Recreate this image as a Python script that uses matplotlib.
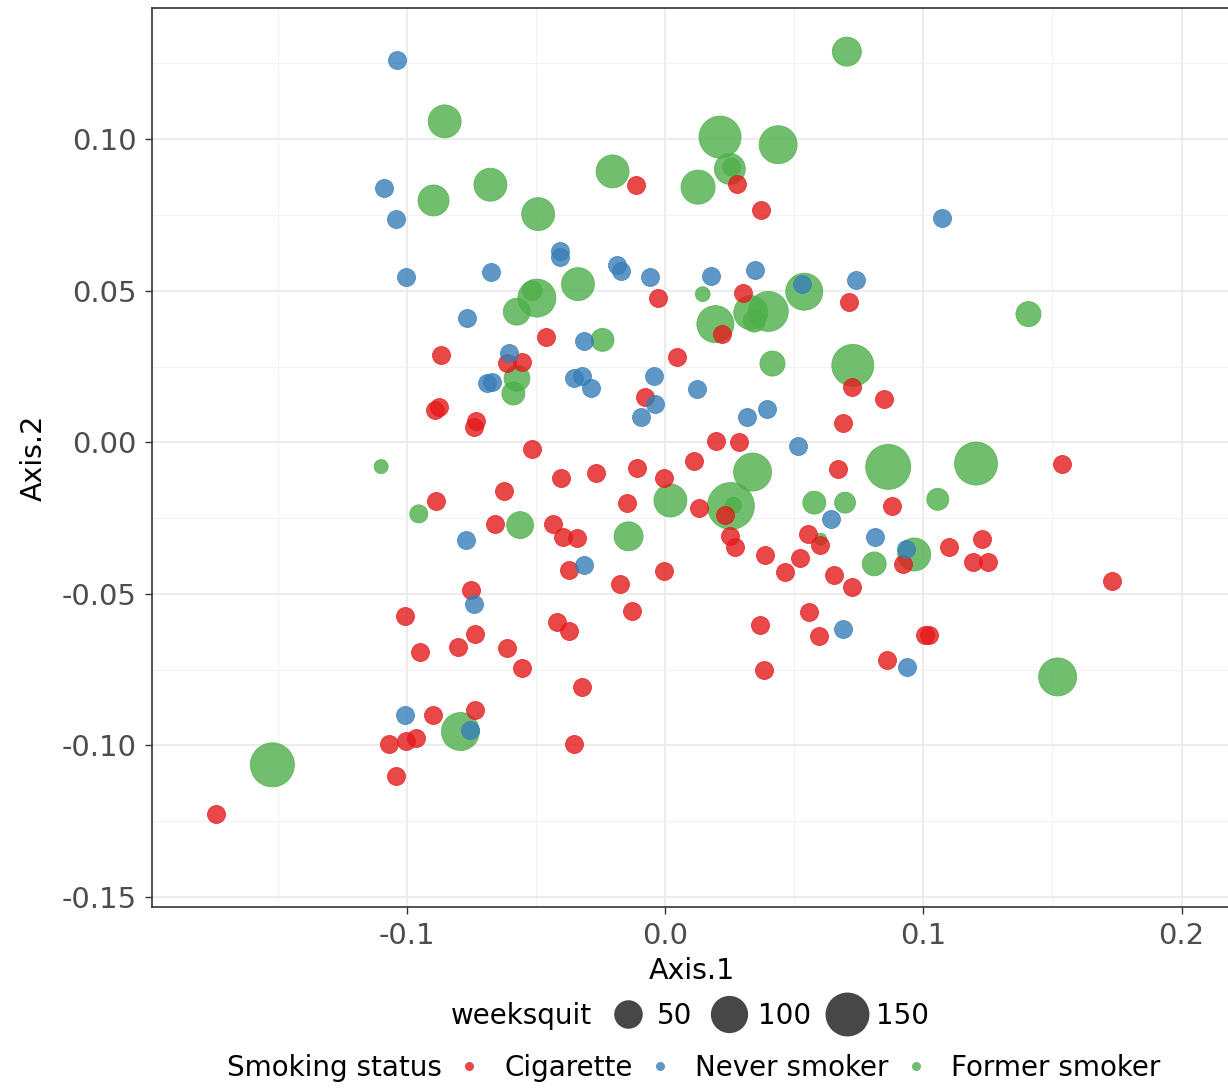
import numpy as np
import matplotlib
matplotlib.use("Agg")
import matplotlib.pyplot as plt
from matplotlib.lines import Line2D

# %% data

cig_x = [-0.0114, 0.0279, 0.0373, -0.0027, 0.0301, 0.0711, -0.0459, 0.0047, -0.0867, -0.0610,
         -0.0552, 0.0221, 0.0725, 0.0846, 0.0691, -0.0077, -0.0889, -0.0875, -0.0730, -0.0740,
         0.0197, 0.0288, -0.0513, 0.0113, -0.0403, -0.0267, -0.0110, -0.0003, -0.0623, -0.0885,
         -0.0147, -0.0659, -0.0434, -0.0396, -0.0340, -0.0370, -0.0003, -0.0174, -0.0126, -0.0752,
         -0.1005, -0.0736, -0.0949, -0.0803, -0.0610, -0.0554, -0.0420, -0.0370, -0.0323, -0.0900,
         -0.0736, -0.1069, -0.1003, -0.0965, -0.0352, -0.1040, -0.1739, 0.0670, 0.1536, 0.0877,
         0.0231, 0.0132, 0.0251, 0.0272, 0.0386, 0.0463, 0.0524, 0.0553, 0.0600, 0.0654,
         0.0722, 0.0921, 0.1099, 0.1229, 0.1191, 0.1252, 0.1732, 0.0559, 0.0366, 0.0596,
         0.1008, 0.1022, 0.0384, 0.0860]
cig_y = [0.0850, 0.0852, 0.0767, 0.0476, 0.0494, 0.0463, 0.0348, 0.0280, 0.0288, 0.0263,
         0.0266, 0.0359, 0.0181, 0.0142, 0.0063, 0.0148, 0.0108, 0.0118, 0.0070, 0.0049,
         0.0004, 0.0001, -0.0021, -0.0062, -0.0119, -0.0100, -0.0086, -0.0117, -0.0161, -0.0192,
         -0.0199, -0.0271, -0.0271, -0.0312, -0.0317, -0.0422, -0.0423, -0.0466, -0.0557, -0.0486,
         -0.0572, -0.0632, -0.0692, -0.0676, -0.0678, -0.0744, -0.0592, -0.0621, -0.0808, -0.0899,
         -0.0882, -0.0994, -0.0984, -0.0974, -0.0995, -0.1102, -0.1226, -0.0087, -0.0073, -0.0210,
         -0.0241, -0.0216, -0.0310, -0.0345, -0.0372, -0.0427, -0.0383, -0.0302, -0.0340, -0.0438,
         -0.0478, -0.0403, -0.0346, -0.0318, -0.0395, -0.0395, -0.0458, -0.0561, -0.0604, -0.0640,
         -0.0634, -0.0634, -0.0750, -0.0717]

never_x = [-0.1039, -0.1087, -0.1041, -0.0408, -0.0408, -0.0674, -0.0187, -0.0170, -0.0057, -0.1001,
           -0.0767, -0.0313, -0.0603, -0.0690, -0.0669, -0.0352, -0.0321, -0.0286, -0.0043, -0.0037,
           -0.0093, 0.1072, 0.0177, 0.0349, 0.0531, 0.0741, 0.0123, 0.0319, 0.0393, 0.0515,
           0.0641, 0.0812, 0.0934, 0.0691, 0.0938, -0.0769, -0.0314, -0.0740, -0.1005, -0.0756]
never_y = [0.1262, 0.0839, 0.0737, 0.0632, 0.0612, 0.0561, 0.0586, 0.0564, 0.0544, 0.0546,
           0.0409, 0.0335, 0.0294, 0.0197, 0.0199, 0.0211, 0.0219, 0.0180, 0.0219, 0.0126,
           0.0082, 0.0740, 0.0549, 0.0569, 0.0522, 0.0535, 0.0177, 0.0084, 0.0109, -0.0012,
           -0.0254, -0.0312, -0.0353, -0.0616, -0.0741, -0.0323, -0.0405, -0.0533, -0.0901, -0.0948]

former_x = [-0.0853, -0.0203, 0.0128, -0.0676, -0.0896, -0.0491, -0.0496, -0.0514, -0.0574, -0.0337,
            -0.0242, -0.0573, -0.0587, 0.0704, 0.0213, 0.0438, 0.0251, 0.0258, 0.0146, 0.0539,
            0.0332, 0.0400, 0.0345, 0.0195, 0.0416, 0.0727, 0.1407, 0.0339, 0.0255, 0.0265,
            0.0864, 0.1204, 0.0578, 0.0697, 0.1056, 0.0603, 0.0810, 0.0965, 0.1520, -0.1099,
            0.0021, -0.0953, -0.0561, -0.0141, -0.0792, -0.1520]
former_y = [0.1059, 0.0894, 0.0842, 0.0850, 0.0798, 0.0753, 0.0476, 0.0500, 0.0431, 0.0522,
            0.0338, 0.0211, 0.0161, 0.1289, 0.1007, 0.0982, 0.0902, 0.0908, 0.0489, 0.0497,
            0.0428, 0.0432, 0.0400, 0.0390, 0.0260, 0.0254, 0.0423, -0.0098, -0.0210, -0.0208,
            -0.0081, -0.0070, -0.0199, -0.0199, -0.0188, -0.0320, -0.0401, -0.0370, -0.0774, -0.0080,
            -0.0192, -0.0236, -0.0273, -0.0310, -0.0954, -0.1064]
former_weeksquit = [66, 66, 72, 66, 56, 66, 95, 15, 38, 66,
                    24, 34, 24, 47, 122, 95, 56, 11, 5, 89,
                    72, 108, 21, 89, 31, 122, 31, 95, 160, 7,
                    144, 129, 24, 18, 21, 2, 27, 66, 95, 4,
                    66, 11, 38, 47, 95, 137]

size_breaks = [50, 100, 150]
status_labels = ["Cigarette", "Never smoker", "Former smoker"]

# %% styling

plt.rcParams["font.family"] = ["DejaVu Sans"]

colors = {"Cigarette": "#E41A1C", "Never smoker": "#377EB8", "Former smoker": "#4DAF4A"}
alpha = 0.8
dpi = 100
px2pt = 72 / dpi
weeks_max = 160
smoker_diam_px = 18


def diam_px(v):
    # ggplot-like area scale: size range 1..6
    return 7.83 * (1 + 5 * np.sqrt(np.asarray(v, dtype=float) / weeks_max))


tick_fontsize = 21
label_fontsize = 20.5
legend_fontsize = 20

fig = plt.figure(figsize=(12.28, 10.89), dpi=dpi)
ax = fig.add_axes([152 / 1228, 1 - 907 / 1089, 1080 / 1228, 899 / 1089])

s_former = (diam_px(former_weeksquit) * px2pt) ** 2
s_smoker = (smoker_diam_px * px2pt) ** 2

ax.scatter(former_x, former_y, s=s_former, color=colors["Former smoker"], alpha=alpha,
           linewidths=0.6, edgecolors=colors["Former smoker"], zorder=3)
ax.scatter(cig_x, cig_y, s=s_smoker, color=colors["Cigarette"], alpha=alpha,
           linewidths=0.6, edgecolors=colors["Cigarette"], zorder=3)
ax.scatter(never_x, never_y, s=s_smoker, color=colors["Never smoker"], alpha=alpha,
           linewidths=0.6, edgecolors=colors["Never smoker"], zorder=3)

ax.set_xlim(-0.1986, 0.2195)
ax.set_ylim(-0.1533, 0.1433)

ax.set_xticks([-0.1, 0.0, 0.1, 0.2])
ax.set_xticklabels(["-0.1", "0.0", "0.1", "0.2"])
ax.set_yticks([-0.15, -0.10, -0.05, 0.00, 0.05, 0.10])
ax.set_yticklabels(["-0.15", "-0.10", "-0.05", "0.00", "0.05", "0.10"])
ax.set_xticks([-0.15, -0.05, 0.05, 0.15], minor=True)
ax.set_yticks([-0.125, -0.075, -0.025, 0.025, 0.075, 0.125], minor=True)

ax.grid(which="major", color="#EBEBEB", linewidth=1.3, zorder=0)
ax.grid(which="minor", color="#F2F2F2", linewidth=0.8, zorder=0)
ax.set_axisbelow(True)

for sp in ax.spines.values():
    sp.set_color("#333333")
    sp.set_linewidth(1.2)

ax.tick_params(which="major", length=5, width=1, color="#333333",
               labelsize=tick_fontsize, labelcolor="#4D4D4D", pad=6)
ax.tick_params(axis="x", which="major", pad=6)
ax.tick_params(which="minor", length=0)

ax.set_xlabel("Axis.1", fontsize=label_fontsize, labelpad=5)
ax.set_ylabel("Axis.2", fontsize=label_fontsize, labelpad=10)

# %% legends (two rows under the panel, ggplot style)

blank = Line2D([], [], linestyle="none")
size_handles = [blank] + [Line2D([], [], linestyle="none", marker="o", color="#333333", alpha=0.9,
                                 markersize=float(diam_px(b)) * px2pt * 0.96, markeredgewidth=0)
                          for b in size_breaks]
fig.legend(size_handles, ["weeksquit"] + [str(b) for b in size_breaks],
           loc="center", bbox_to_anchor=(0.542, 1 - 1016 / 1089), ncol=4, frameon=False,
           fontsize=legend_fontsize, handlelength=1.4, handletextpad=0.35, columnspacing=0.6)

status_handles = [blank] + [Line2D([], [], linestyle="none", marker="o", color=colors[k], alpha=alpha,
                                   markersize=6.5, markeredgewidth=0) for k in status_labels]
fig.legend(status_handles, ["Smoking status"] + status_labels,
           loc="center", bbox_to_anchor=(0.545, 1 - 1068 / 1089), ncol=4, frameon=False,
           fontsize=legend_fontsize, handlelength=1.0, handletextpad=0.75, columnspacing=0.5)

fig.savefig("out.png", dpi=dpi)
